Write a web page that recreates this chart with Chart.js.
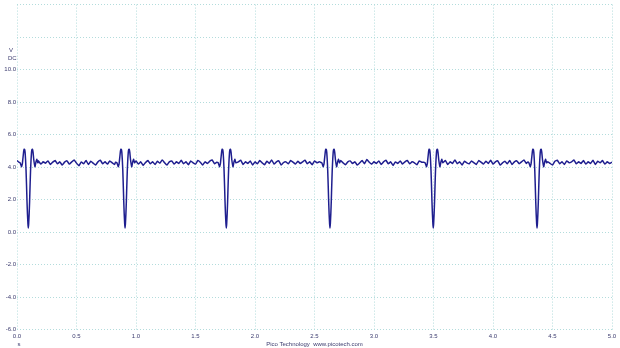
<!DOCTYPE html>
<html>
<head>
<meta charset="utf-8">
<script src="https://cdn.jsdelivr.net/npm/chart.js@4/dist/chart.umd.min.js"></script>
<style>
  html, body { margin: 0; padding: 0; background: #fff; }
  #wrap { width: 620px; height: 348px; position: relative; }
</style>
</head>
<body>
<div id="wrap"><canvas id="scope"></canvas></div>
<script>
'use strict';

const X_TICKS = [0, 0.5, 1, 1.5, 2, 2.5, 3, 3.5, 4, 4.5, 5];
const Y_TICKS = [-6, -4, -2, 0, 2, 4, 6, 8, 10];

// baseline trace, one sample every 0.02 s from 0.00 to 5.00 s
const SAMPLE_STEP = 0.02;
const baselineVolts = [
  4.40, 4.28, 4.45, 4.24, 4.36, 4.30, 4.20, 4.34, 4.26, 4.38,
  4.18, 4.32, 4.24, 4.38, 4.16, 4.30, 4.40, 4.20, 4.32, 4.12,
  4.30, 4.38, 4.18, 4.32, 4.44, 4.24, 4.08, 4.32, 4.20, 4.40,
  4.16, 4.36, 4.24, 4.12, 4.32, 4.42, 4.20, 4.32, 4.18, 4.38,
  4.26, 4.16, 4.40, 4.30, 4.22, 4.36, 4.30, 4.20, 4.34, 4.26,
  4.38, 4.18, 4.32, 4.10, 4.28, 4.40, 4.20, 4.32, 4.16, 4.36,
  4.24, 4.44, 4.26, 4.12, 4.32, 4.38, 4.18, 4.32, 4.22, 4.42,
  4.20, 4.32, 4.14, 4.38, 4.26, 4.18, 4.40, 4.30, 4.12, 4.32,
  4.22, 4.36, 4.44, 4.20, 4.32, 4.26, 4.38, 4.30, 4.22, 4.32,
  4.26, 4.38, 4.18, 4.32, 4.42, 4.16, 4.32, 4.22, 4.38, 4.12,
  4.32, 4.20, 4.40, 4.26, 4.14, 4.36, 4.22, 4.44, 4.18, 4.32,
  4.38, 4.12, 4.28, 4.32, 4.20, 4.40, 4.30, 4.18, 4.36, 4.22,
  4.32, 4.42, 4.20, 4.32, 4.14, 4.38, 4.26, 4.32, 4.22, 4.36,
  4.26, 4.32, 4.22, 4.38, 4.30, 4.18, 4.40, 4.26, 4.14, 4.32,
  4.38, 4.22, 4.32, 4.12, 4.26, 4.40, 4.20, 4.46, 4.30, 4.18,
  4.32, 4.22, 4.38, 4.16, 4.32, 4.42, 4.20, 4.32, 4.10, 4.32,
  4.22, 4.38, 4.18, 4.32, 4.40, 4.20, 4.32, 4.26, 4.14, 4.38,
  4.30, 4.22, 4.36, 4.26, 4.32, 4.30, 4.22, 4.38, 4.18, 4.32,
  4.40, 4.16, 4.32, 4.22, 4.44, 4.20, 4.32, 4.12, 4.36, 4.26,
  4.20, 4.38, 4.26, 4.16, 4.40, 4.30, 4.18, 4.36, 4.22, 4.42,
  4.18, 4.32, 4.38, 4.12, 4.26, 4.36, 4.20, 4.40, 4.16, 4.32,
  4.38, 4.20, 4.32, 4.44, 4.22, 4.36, 4.30, 4.26, 4.32, 4.22,
  4.32, 4.40, 4.18, 4.32, 4.22, 4.12, 4.36, 4.42, 4.20, 4.32,
  4.16, 4.38, 4.26, 4.32, 4.44, 4.20, 4.32, 4.22, 4.40, 4.18,
  4.32, 4.22, 4.42, 4.16, 4.36, 4.26, 4.40, 4.18, 4.32, 4.22,
  4.30,
];

// centre (bottom of the dip) of each pulse, seconds
const pulseTimes = [0.095, 0.908, 1.759, 2.630, 3.498, 4.370];

// one pulse: time offset from centre (s) and volts
const pulseOffsets = [
  -0.080, -0.068, -0.057, -0.050, -0.044, -0.039, -0.035, -0.031,
  -0.027, -0.023, -0.019, -0.015, -0.011, -0.007, -0.003, 0.000,
  0.003, 0.007, 0.011, 0.015, 0.019, 0.023, 0.027, 0.031,
  0.035, 0.040, 0.046, 0.056, 0.064, 0.072, 0.080,
];
const pulseVolts = [
  4.30, 4.26, 4.02, 4.20, 4.62, 4.96, 5.10, 5.08,
  4.90, 4.45, 3.80, 2.90, 1.90, 1.10, 0.50, 0.25,
  0.50, 1.10, 1.90, 2.90, 3.80, 4.45, 4.90, 5.08,
  5.10, 4.90, 4.45, 4.02, 4.30, 4.48, 4.26,
];

const PULSE_HALF_WIDTH = 0.084;

// ── Build trace ──────────────────────────────────────────────────────────────

function buildTrace() {
  const pts = [];
  baselineVolts.forEach((v, i) => {
    const t = +(i * SAMPLE_STEP).toFixed(3);
    if (pulseTimes.some(p => Math.abs(t - p) < PULSE_HALF_WIDTH)) return;
    pts.push({ x: t, y: v });
  });
  pulseTimes.forEach(p => {
    pulseOffsets.forEach((o, j) => pts.push({ x: p + o, y: pulseVolts[j] }));
  });
  return pts.sort((a, b) => a.x - b.x);
}

// ── Extra text (axis units, footer) ──────────────────────────────────────────

const TEXT_COLOR = '#3b3b6e';
const GRID_COLOR = '#b3dcdc';
const FONT = '"Liberation Sans", Arial, sans-serif';

const scopeText = {
  id: 'scopeText',
  afterDraw(chart) {
    const { ctx, chartArea, scales } = chart;
    ctx.save();
    ctx.fillStyle = TEXT_COLOR;
    ctx.font = '6px ' + FONT;
    ctx.textBaseline = 'middle';

    const y12 = scales.y.getPixelForValue(12);
    ctx.textAlign = 'left';
    ctx.fillText('V', 9, y12 + 13);
    ctx.fillText('DC', 8, y12 + 21);

    ctx.textAlign = 'center';
    ctx.fillText('s', scales.x.getPixelForValue(0) + 2, chartArea.bottom + 15);
    ctx.fillText('Pico Technology  www.picotech.com',
      (chartArea.left + chartArea.right) / 2, chartArea.bottom + 14.5);
    ctx.restore();
  },
};

// ── Chart ────────────────────────────────────────────────────────────────────

const gridOpts = { color: GRID_COLOR, drawTicks: false, lineWidth: 1 };
const borderOpts = { display: false, dash: [1, 2] };

new Chart(document.getElementById('scope').getContext('2d'), {
  type: 'line',
  data: {
    datasets: [{
      data: buildTrace(),
      borderColor: '#1f1f8f',
      borderWidth: 1.5,
      pointRadius: 0,
      fill: false,
      tension: 0.1,   // non-zero keeps Chart.js off its per-pixel fast path
    }],
  },
  options: {
    responsive: true,
    maintainAspectRatio: false,
    animation: false,
    layout: { padding: { top: 3.5, right: 8, left: 0, bottom: 0 } },
    plugins: {
      legend: { display: false },
      tooltip: { enabled: false },
    },
    scales: {
      x: {
        type: 'linear',
        min: 0,
        max: 5,
        afterFit: s => { s.height = 18.5; },
        afterBuildTicks: s => { s.ticks = X_TICKS.map(v => ({ value: v })); },
        border: borderOpts,
        grid: gridOpts,
        ticks: {
          padding: 3,
          color: TEXT_COLOR,
          maxRotation: 0,
          autoSkip: false,
          font: { size: 6, family: FONT },
          callback: v => v.toFixed(1),
        },
      },
      y: {
        min: -6,
        max: 14,
        afterFit: s => { s.width = 17; },
        afterBuildTicks: s => {
          s.ticks = Y_TICKS.concat([12, 14]).sort((a, b) => a - b).map(v => ({ value: v }));
        },
        border: borderOpts,
        grid: gridOpts,
        ticks: {
          padding: 1,
          color: TEXT_COLOR,
          font: { size: 6, family: FONT },
          callback: v => (Y_TICKS.includes(v) ? v.toFixed(1) : ''),
        },
      },
    },
  },
  plugins: [scopeText],
});
</script>
</body>
</html>
